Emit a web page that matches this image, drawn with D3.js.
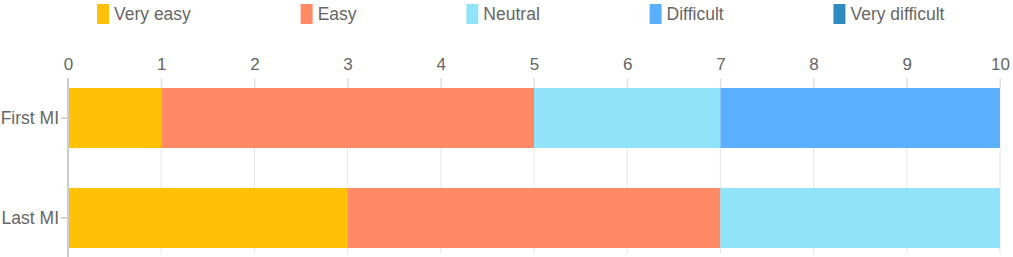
<!DOCTYPE html>
<html>
<head>
<meta charset="utf-8">
<script src="https://cdn.jsdelivr.net/npm/d3@7"></script>
<style>
  body { margin: 0; background: #fff; }
  text { font-family: Arial, "Liberation Sans", sans-serif; }
</style>
</head>
<body>
<div id="chart"></div>
<script>
// Data
const categories = ["First MI", "Last MI"];
const seriesNames = ["Very easy", "Easy", "Neutral", "Difficult", "Very difficult"];
const veryEasy = [1, 3];
const easy = [4, 4];
const neutral = [2, 3];
const difficult = [3, 0];
const veryDifficult = [0, 0];
const xTicks = [0, 1, 2, 3, 4, 5, 6, 7, 8, 9, 10];
const colors = ["#FFC107", "#FF8A65", "#91E3FA", "#5BAFFF", "#2E8BC0"];

const W = 1013, H = 257;
const margin = { left: 68, right: 13, top: 88 };

const svg = d3.select('#chart').append('svg')
    .attr('width', W)
    .attr('height', H);

// build stack table
const table = categories.map((c, i) => ({
    cat: c,
    "Very easy": veryEasy[i],
    "Easy": easy[i],
    "Neutral": neutral[i],
    "Difficult": difficult[i],
    "Very difficult": veryDifficult[i]
}));
const stacked = d3.stack().keys(seriesNames)(table);

const x = d3.scaleLinear().domain([0, 10]).range([margin.left, W - margin.right]);
const y = d3.scaleBand().domain(categories).range([68, 268]).paddingInner(0.4).paddingOuter(0.2);
const color = d3.scaleOrdinal().domain(seriesNames).range(colors);

// Gridlines
svg.append('g')
    .selectAll('line')
    .data(xTicks.slice(1))
    .join('line')
    .attr('x1', d => x(d)).attr('x2', d => x(d))
    .attr('y1', 78).attr('y2', 254)
    .attr('stroke', '#e6e6e6')
    .attr('stroke-width', 1);

// top axis
const xAxis = svg.append('g')
    .attr('transform', 'translate(0,88)')
    .call(d3.axisTop(x).tickValues(xTicks).tickSize(10).tickPadding(8).tickFormat(d3.format('d')));
xAxis.select('.domain').remove();
xAxis.selectAll('.tick line').attr('stroke', '#e0e0e0');
xAxis.selectAll('.tick text').attr('fill', '#666').style('font-size', '17px');

// bars
svg.append('g')
    .selectAll('g')
    .data(stacked)
    .join('g')
    .attr('fill', d => color(d.key))
    .selectAll('rect')
    .data(d => d)
    .join('rect')
    .attr('x', d => x(d[0]))
    .attr('y', d => y(d.data.cat))
    .attr('width', d => x(d[1]) - x(d[0]))
    .attr('height', y.bandwidth());

// left axis
const yAxis = svg.append('g')
    .attr('transform', 'translate(' + margin.left + ',0)')
    .call(d3.axisLeft(y).tickSize(7).tickPadding(2));
yAxis.select('.domain').remove();
yAxis.selectAll('.tick line').attr('stroke', '#aaa');
yAxis.selectAll('.tick text').attr('fill', '#666').style('font-size', '17.5px');
svg.append('line')
    .attr('x1', margin.left).attr('x2', margin.left)
    .attr('y1', 78).attr('y2', H)
    .attr('stroke', '#ccc').attr('stroke-width', 2);

// legend, laid out by text width
const legend = svg.append('g');
let lx = 97;
seriesNames.forEach(name => {
    const g = legend.append('g').attr('transform', 'translate(' + lx + ',4)');
    g.append('rect')
        .attr('width', 12).attr('height', 20)
        .attr('fill', color(name));
    const t = g.append('text')
        .attr('x', 17).attr('y', 16)
        .attr('fill', '#666')
        .style('font-size', '17.5px')
        .text(name);
    lx += 17 + t.node().getComputedTextLength() + 109.8;
});
</script>
</body>
</html>
